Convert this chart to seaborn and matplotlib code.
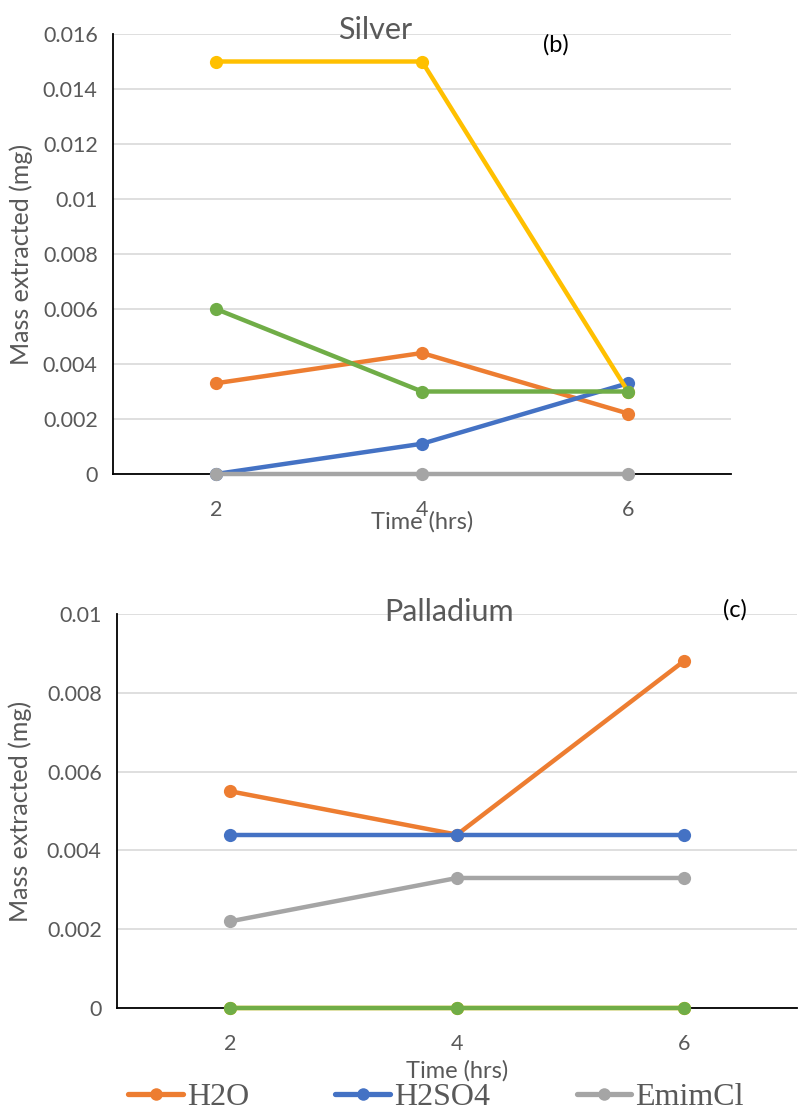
import matplotlib
matplotlib.use("Agg")
import matplotlib.pyplot as plt
from matplotlib.lines import Line2D
import seaborn as sns
import pandas as pd

# Extraction time (hours)
hours = [2, 4, 6]

# Silver: mass extracted (mg)
silver_h2o = [0.0033, 0.0044, 0.0022]
silver_h2so4 = [0.0, 0.0011, 0.0033]
silver_emimcl = [0.0, 0.0, 0.0]
silver_s4 = [0.015, 0.015, 0.003]
silver_s5 = [0.006, 0.003, 0.003]

# Palladium: mass extracted (mg)
pd_h2o = [0.0055, 0.0044, 0.0088]
pd_h2so4 = [0.0044, 0.0044, 0.0044]
pd_emimcl = [0.0022, 0.0033, 0.0033]
pd_s4 = [0.0, 0.0, 0.0]
pd_s5 = [0.0, 0.0, 0.0]

series_names = ["H2O", "H2SO4", "EmimCl", "Series4", "Series5"]
legend_names = ["H2O", "H2SO4", "EmimCl"]
colors = ["#ED7D31", "#4472C4", "#A5A5A5", "#FFC000", "#70AD47"]

silver_ticks = [0, 0.002, 0.004, 0.006, 0.008, 0.01, 0.012, 0.014, 0.016]
pd_ticks = [0, 0.002, 0.004, 0.006, 0.008, 0.01]


def long_frame(values):
    rows = []
    for name, vals in zip(series_names, values):
        for h, v in zip(hours, vals):
            rows.append({"Time": h, "Mass": v, "Series": name})
    return pd.DataFrame(rows)


silver_df = long_frame([silver_h2o, silver_h2so4, silver_emimcl, silver_s4, silver_s5])
pd_df = long_frame([pd_h2o, pd_h2so4, pd_emimcl, pd_s4, pd_s5])

sns.set_theme(style="white")
plt.rcParams["font.family"] = ["Lato", "DejaVu Sans"]

TEXT = "#595959"
GRID = "#D9D9D9"

fig = plt.figure(figsize=(8.0, 11.11), dpi=100)
ax1 = fig.add_axes([113 / 800, 1 - 474 / 1111, (731 - 113) / 800, 440 / 1111])
ax2 = fig.add_axes([117 / 800, 1 - 1008 / 1111, (797 - 117) / 800, 394 / 1111])


def draw_panel(ax, df, ticks, title, title_xy, tag, tag_xy, xlabelpad, ylabel_x):
    sns.lineplot(data=df, x="Time", y="Mass", hue="Series", hue_order=series_names,
                 palette=colors, marker="o", markersize=9.5, markeredgewidth=0,
                 linewidth=3.2, ax=ax, legend=False, clip_on=False, zorder=3)
    ax.set_xlim(1, 7)
    ax.set_ylim(ticks[0], ticks[-1])
    ax.set_yticks(ticks)
    ax.set_yticklabels([f"{t:g}" for t in ticks])
    ax.set_xticks([2, 4, 6])
    ax.set_xticklabels(["2", "4", "6"])
    ax.set_xticks([1, 3, 5, 7], minor=True)
    ax.tick_params(axis="x", which="major", length=0, labelsize=15.5, labelcolor=TEXT, pad=19)
    ax.tick_params(axis="x", which="minor", length=7, width=1.3, color="black", direction="out")
    ax.tick_params(axis="y", which="major", length=7, width=1.3, color="black",
                   direction="out", labelsize=15.5, labelcolor=TEXT, pad=4)
    ax.yaxis.grid(True, color=GRID, linewidth=1.2, zorder=0)
    ax.set_axisbelow(True)
    for side in ("top", "right"):
        ax.spines[side].set_visible(False)
    for side in ("left", "bottom"):
        ax.spines[side].set_color("black")
        ax.spines[side].set_linewidth(1.3)
    ax.set_xlabel("Time (hrs)", fontsize=17, color=TEXT, labelpad=xlabelpad)
    ax.set_ylabel("Mass extracted (mg)", fontsize=18, color=TEXT, labelpad=0)
    ax.yaxis.set_label_coords(ylabel_x, 0.5)
    ax.text(title_xy[0], title_xy[1], title, transform=ax.transAxes, fontsize=22,
            color=TEXT, ha="center", va="center")
    ax.text(tag_xy[0], tag_xy[1], tag, transform=ax.transAxes, fontsize=17,
            color="black", ha="center", va="center")


draw_panel(ax1, silver_df, silver_ticks, "Silver", (0.424, 1.008), "(b)", (0.717, 0.975),
           -7, -0.13)
draw_panel(ax2, pd_df, pd_ticks, "Palladium", (0.488, 1.005), "(c)", (0.909, 1.01),
           4, -0.125)

handles = [Line2D([0], [0], color=c, linewidth=3.8, marker="o", markersize=9,
                  markeredgewidth=0) for c in colors[:3]]
fig.legend(handles, legend_names, loc="center", bbox_to_anchor=(0.545, 1 - 1097 / 1111),
           ncol=3, frameon=False, handlelength=1.72, handletextpad=0.12, columnspacing=2.7,
           borderpad=0, prop={"family": "Liberation Serif", "size": 23}, labelcolor=TEXT)

fig.savefig("out.png", dpi=100)
